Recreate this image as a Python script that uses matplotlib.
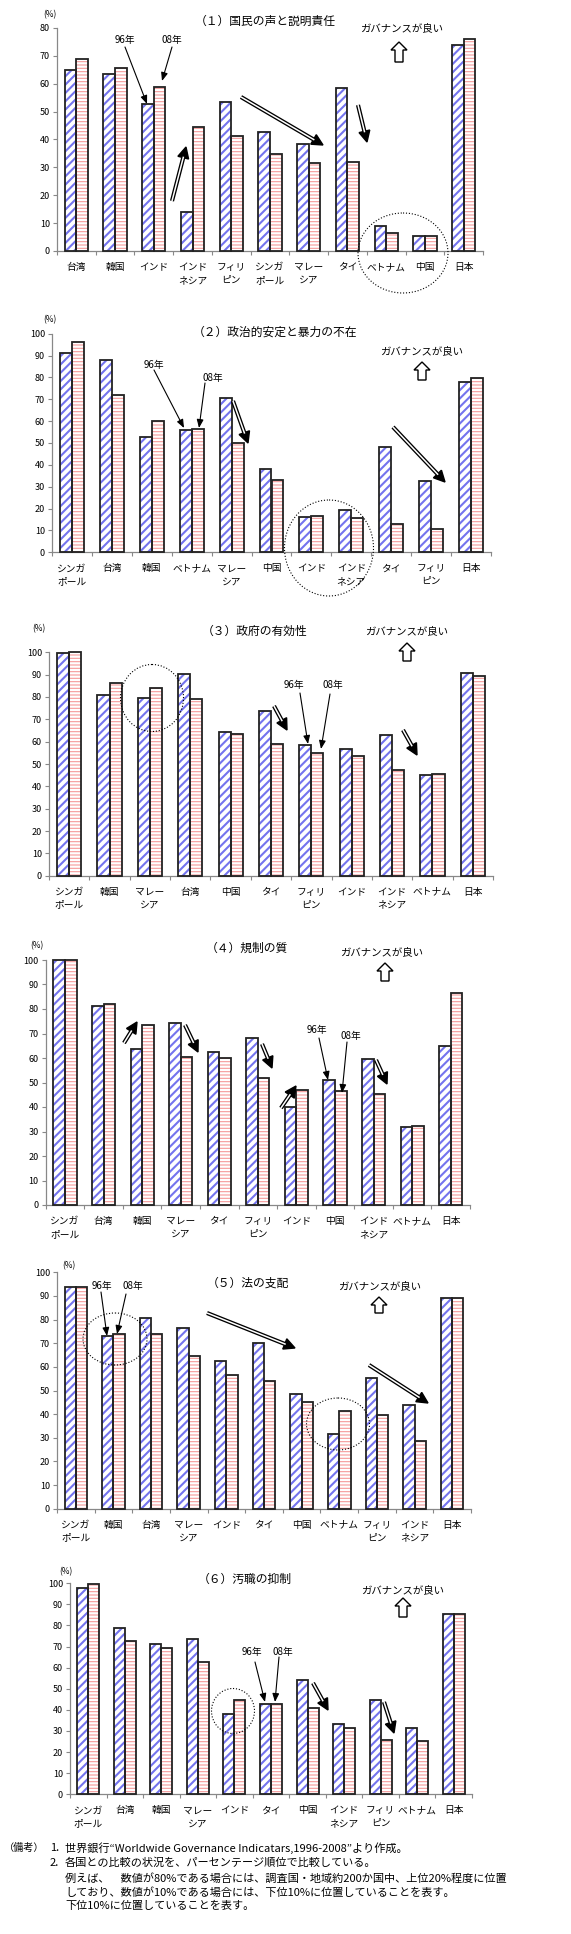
import numpy as np
import matplotlib
matplotlib.use("Agg")
import matplotlib.pyplot as plt
from matplotlib.patches import Ellipse, Polygon

plt.rcParams['font.family'] = ['Noto Sans CJK JP', 'DejaVu Sans']
plt.rcParams['hatch.linewidth'] = 1.0

# --- data (percentile rank, 1996 vs 2008) ---
cats1 = ['台湾', '韓国', 'インド', 'インド\nネシア', 'フィリ\nピン', 'シンガ\nポール', 'マレー\nシア', 'タイ', 'ベトナム', '中国', '日本']
v96_1 = [64.8, 63.5, 52.8, 14.1, 53.5, 42.6, 38.4, 58.4, 9.1, 5.3, 74.0]
v08_1 = [69.0, 65.5, 58.8, 44.4, 41.2, 34.9, 31.7, 32.1, 6.3, 5.3, 76.0]

cats2 = ['シンガ\nポール', '台湾', '韓国', 'ベトナム', 'マレー\nシア', '中国', 'インド', 'インド\nネシア', 'タイ', 'フィリ\nピン', '日本']
v96_2 = [91.3, 87.8, 52.9, 55.9, 70.7, 38.0, 16.3, 19.2, 48.0, 32.5, 77.7]
v08_2 = [96.2, 71.8, 59.9, 56.4, 50.2, 33.2, 16.6, 15.9, 13.1, 10.5, 79.6]

cats3 = ['シンガ\nポール', '韓国', 'マレー\nシア', '台湾', '中国', 'タイ', 'フィリ\nピン', 'インド', 'インド\nネシア', 'ベトナム', '日本']
v96_3 = [99.7, 81.0, 79.7, 90.1, 64.5, 73.6, 58.5, 56.9, 63.1, 45.1, 90.9]
v08_3 = [100.0, 86.4, 84.0, 79.3, 63.6, 59.0, 55.1, 53.7, 47.2, 45.5, 89.3]

cats4 = ['シンガ\nポール', '台湾', '韓国', 'マレー\nシア', 'タイ', 'フィリ\nピン', 'インド', '中国', 'インド\nネシア', 'ベトナム', '日本']
v96_4 = [99.9, 81.2, 63.7, 74.4, 62.6, 68.0, 39.9, 50.9, 59.7, 31.8, 64.9]
v08_4 = [99.9, 81.9, 73.3, 60.5, 60.1, 51.7, 47.1, 46.7, 45.4, 32.2, 86.7]

cats5 = ['シンガ\nポール', '韓国', '台湾', 'マレー\nシア', 'インド', 'タイ', '中国', 'ベトナム', 'フィリ\nピン', 'インド\nネシア', '日本']
v96_5 = [93.7, 72.9, 80.5, 76.6, 62.6, 70.1, 48.7, 31.7, 55.3, 43.7, 89.3]
v08_5 = [93.7, 74.0, 73.8, 64.6, 56.6, 54.2, 45.0, 41.5, 39.8, 28.6, 89.3]

cats6 = ['シンガ\nポール', '台湾', '韓国', 'マレー\nシア', 'インド', 'タイ', '中国', 'インド\nネシア', 'フィリ\nピン', 'ベトナム', '日本']
v96_6 = [97.6, 79.0, 71.4, 73.7, 38.2, 42.6, 54.3, 33.3, 44.7, 31.6, 85.6]
v08_6 = [99.8, 72.8, 69.3, 62.7, 44.5, 42.9, 40.7, 31.6, 25.9, 25.1, 85.6]

titles = ['（１）国民の声と説明責任', '（２）政治的安定と暴力の不在', '（３）政府の有効性',
          '（４）規制の質', '（５）法の支配', '（６）汚職の抑制']

W, H = 571, 1934
fig = plt.figure(figsize=(W / 100, H / 100), dpi=100)

BLUE = '#7474ee'
PINK = '#f59a9a'


def px_axes(l, t, r, b):
    return fig.add_axes([l / W, 1 - b / H, (r - l) / W, (b - t) / H])


def draw_panel(ax, cats, v96, v08, ymax):
    x = np.arange(len(cats))
    w = 0.3
    for vals, off, col, hatch, hlw in [(v96, -w / 2, BLUE, '////', 1.5), (v08, w / 2, PINK, '-----', 0.8)]:
        with plt.rc_context({'hatch.linewidth': hlw}):
            bars = ax.bar(x + off, vals, w, color='white', edgecolor=col, hatch=hatch, linewidth=0,
                          zorder=2, clip_on=False)
        for p in bars:
            if hasattr(p, 'set_hatch_linewidth'):
                p.set_hatch_linewidth(hlw)
        ax.bar(x + off, vals, w, fill=False, edgecolor='#222222', linewidth=1.3, zorder=3, clip_on=False)
    ax.set_xlim(-0.5, len(cats) - 0.5)
    ax.set_ylim(0, ymax)
    ax.set_yticks(np.arange(0, ymax + 1, 10))
    ax.set_xticks(x)
    ax.set_xticklabels(cats, fontsize=7, linespacing=1.35)
    ax.set_xticks(np.arange(-0.5, len(cats)), minor=True)
    ax.tick_params(axis='x', which='major', length=0, pad=8)
    ax.tick_params(axis='x', which='minor', length=3, color='#888888', width=0.8)
    ax.tick_params(axis='y', length=3, color='#888888', width=0.8, labelsize=6.5, pad=2)
    for s in ['top', 'right']:
        ax.spines[s].set_visible(False)
    for s in ['left', 'bottom']:
        ax.spines[s].set_color('#888888')
        ax.spines[s].set_linewidth(0.9)
    ax.set_facecolor('none')


panels = [
    (cats1, v96_1, v08_1, 80, (57, 28, 483, 251)),
    (cats2, v96_2, v08_2, 100, (52, 333.7, 491, 552.3)),
    (cats3, v96_3, v08_3, 100, (49, 652.3, 493, 875.7)),
    (cats4, v96_4, v08_4, 100, (45.7, 960, 470, 1205)),
    (cats5, v96_5, v08_5, 100, (57, 1272.3, 471, 1508.7)),
    (cats6, v96_6, v08_6, 100, (70, 1583.2, 472, 1794.3)),
]
for cats, a, b, ymax, box in panels:
    draw_panel(px_axes(*box), cats, a, b, ymax)

# overlay in pixel coordinates for annotations
ov = fig.add_axes([0, 0, 1, 1])
ov.set_xlim(0, W)
ov.set_ylim(H, 0)
ov.axis('off')


def txt(x, y, s, size=7.5, ha='center'):
    ov.text(x, y, s, fontsize=size, ha=ha, va='center')


def dbl_arrow(x0, y0, x1, y1, hl=11, hw=11):
    d = np.array([x1 - x0, y1 - y0], float)
    u = d / np.hypot(*d)
    n = np.array([-u[1], u[0]])
    base = np.array([x1, y1]) - hl * u
    ov.plot([x0, base[0]], [y0, base[1]], color='k', lw=3.0, solid_capstyle='butt')
    ov.plot([x0, base[0] + u[0]], [y0, base[1] + u[1]], color='w', lw=1.1, solid_capstyle='butt')
    ov.add_patch(Polygon([(x1, y1), base + hw / 2 * n, base - hw / 2 * n], closed=True, color='k'))


def up_arrow(cx, top, bottom, w=16, sw=8, hh=8):
    pts = [(cx, top), (cx + w / 2, top + hh), (cx + sw / 2, top + hh), (cx + sw / 2, bottom),
           (cx - sw / 2, bottom), (cx - sw / 2, top + hh), (cx - w / 2, top + hh)]
    ov.add_patch(Polygon(pts, closed=True, facecolor='white', edgecolor='k', lw=1.0))


def thin_arrow(x0, y0, x1, y1):
    ov.annotate('', xy=(x1, y1), xytext=(x0, y0),
                arrowprops=dict(arrowstyle='-|>,head_length=0.5,head_width=0.2', color='k', lw=0.8,
                                shrinkA=0, shrinkB=0))


def ring(cx, cy, w, h):
    ov.add_patch(Ellipse((cx, cy), w, h, fill=False, ls=':', lw=0.8, color='k'))


good = 'ガバナンスが良い'

# (1)
txt(265, 21, titles[0], 8.5)
txt(50, 15, '(%)', 6)
txt(402, 28, good)
up_arrow(399, 42, 62)
txt(125, 40, '96年', 7)
txt(172, 40, '08年', 7)
thin_arrow(125, 47, 147, 104)
thin_arrow(172, 47, 162, 81)
dbl_arrow(172, 201, 186, 147)
dbl_arrow(241, 97, 323, 145)
dbl_arrow(358, 105, 367, 142)
ring(403, 253, 90, 80)

# (2)
txt(275, 332, titles[1], 8.5)
txt(50, 320, '(%)', 6)
txt(422, 351, good)
up_arrow(422, 362, 380)
txt(154, 365, '96年', 7)
txt(213, 378, '08年', 7)
thin_arrow(154, 370, 184, 428)
thin_arrow(205, 383, 199, 428)
dbl_arrow(233, 401, 248, 443)
dbl_arrow(393, 427, 445, 482)
ring(329, 548, 89, 96)

# (3)
txt(255, 631, titles[2], 8.5)
txt(39, 629, '(%)', 6)
txt(407, 631, good)
up_arrow(407, 643, 661)
txt(294, 685, '96年', 7)
txt(333, 685, '08年', 7)
thin_arrow(300, 693, 308, 744)
thin_arrow(330, 694, 321, 749)
dbl_arrow(274, 706, 287, 730)
dbl_arrow(403, 730, 417, 755)
ring(152, 698, 63, 67)

# (4)
txt(247, 948, titles[3], 8.5)
txt(37, 946, '(%)', 6)
txt(382, 952, good)
up_arrow(385, 963, 981)
txt(317, 1030, '96年', 7)
txt(351, 1036, '08年', 7)
thin_arrow(319, 1038, 328, 1080)
thin_arrow(347, 1042, 342, 1093)
dbl_arrow(124, 1043, 137, 1022)
dbl_arrow(185, 1025, 198, 1052)
dbl_arrow(262, 1044, 272, 1068)
dbl_arrow(281, 1108, 296, 1086)
dbl_arrow(376, 1060, 387, 1084)

# (5)
txt(248, 1283, titles[4], 8.5)
txt(69, 1266, '(%)', 6)
txt(380, 1286, good)
up_arrow(379, 1297, 1313)
txt(102, 1286, '96年', 7)
txt(133, 1286, '08年', 7)
thin_arrow(101, 1292, 107, 1336)
thin_arrow(126, 1294, 117, 1334)
ring(115, 1339, 64, 52)
ring(338, 1424, 63, 52)
dbl_arrow(207, 1313, 295, 1348)
dbl_arrow(369, 1365, 428, 1403)

# (6)
txt(245, 1579, titles[5], 8.5)
txt(66, 1572, '(%)', 6)
txt(403, 1590, good)
up_arrow(403, 1598, 1617)
txt(252, 1652, '96年', 7)
txt(283, 1652, '08年', 7)
thin_arrow(255, 1662, 265, 1702)
thin_arrow(279, 1657, 275, 1702)
ring(233, 1711, 43, 45)
dbl_arrow(313, 1683, 328, 1710)
dbl_arrow(384, 1702, 394, 1733)

# notes
fs = 8
txt(4, 1848, '（備考）', 7.3, ha='left')
txt(50, 1848, '1.', fs, ha='left')
txt(65, 1848, '世界銀行“Worldwide Governance Indicatars,1996-2008”より作成。', fs, ha='left')
txt(50, 1863, '2.', fs, ha='left')
txt(65, 1863, '各国との比較の状況を、パーセンテージ順位で比較している。', fs, ha='left')
txt(65, 1879, '例えば、　数値が80%である場合には、調査国・地域約200か国中、上位20%程度に位置', fs, ha='left')
txt(65, 1893, 'しており、数値が10%である場合には、下位10%に位置していることを表す。', fs, ha='left')
txt(65, 1906, '下位10%に位置していることを表す。', fs, ha='left')

fig.savefig('out.png', dpi=100)
